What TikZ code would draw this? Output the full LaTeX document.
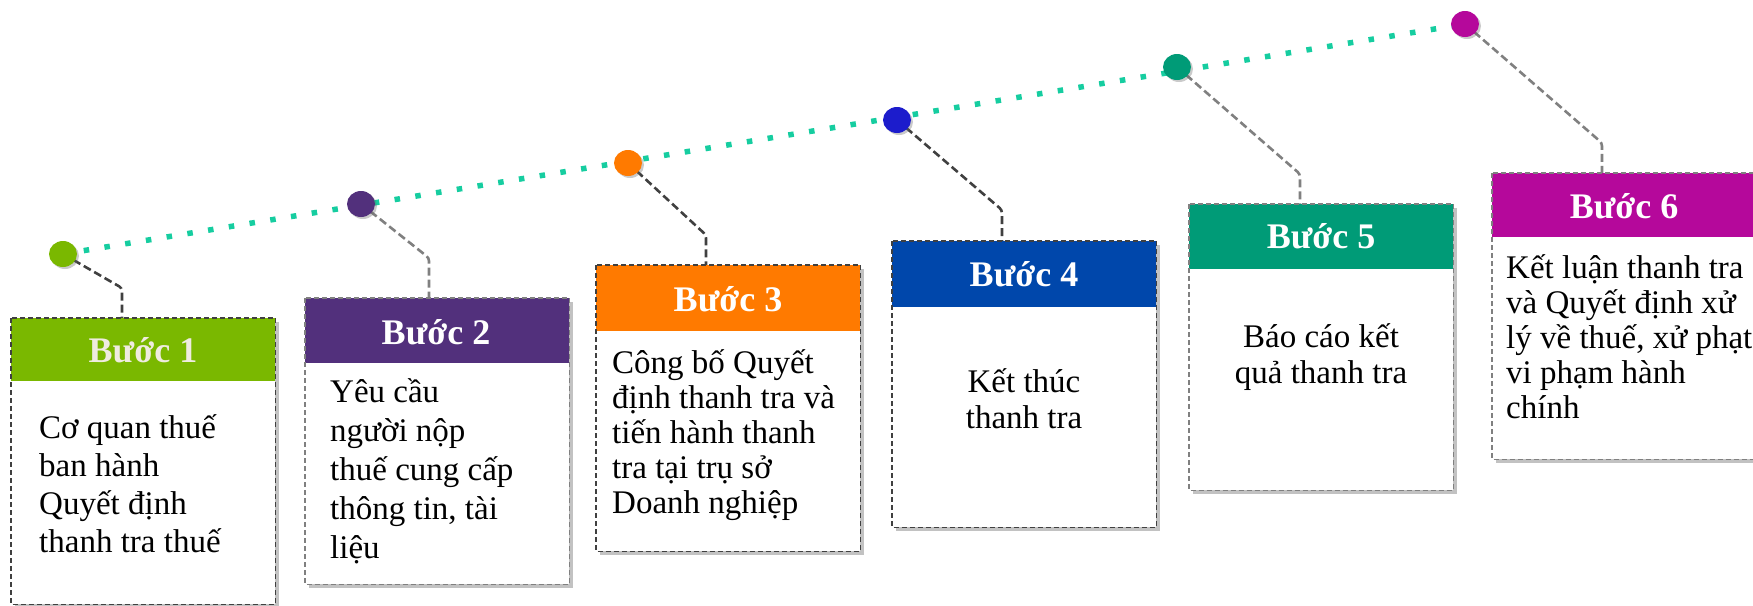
\documentclass[tikz,border=0pt]{standalone}
\usepackage{fontspec}
\setmainfont{Liberation Serif}
\usetikzlibrary{shadows,shapes.geometric}
\definecolor{cA}{HTML}{7AB800}
\definecolor{cB}{HTML}{52307C}
\definecolor{cC}{HTML}{FF7A00}
\definecolor{cD}{HTML}{0047AB}
\definecolor{cE}{HTML}{009B77}
\definecolor{cF}{HTML}{B5089B}
\definecolor{dotD}{HTML}{1C1CCC}
\definecolor{trail}{RGB}{22,205,160}
\definecolor{darkln}{HTML}{404040}
\definecolor{lightln}{HTML}{808080}
\definecolor{hdrA}{HTML}{EFEBE0}
\begin{document}
\begin{tikzpicture}[x=1pt,y=-1pt,
  card/.style={rectangle, fill=white, draw=none, inner sep=0pt, minimum width=264pt, minimum height=286pt, anchor=north west, drop shadow={shadow xshift=4pt, shadow yshift=-4pt, opacity=0.4, fill=black!60}},
  hdr/.style={rectangle, fill=#1, draw=none, inner sep=0pt, minimum width=264pt, anchor=north},
  hdrtext/.style={font=\fontsize{36}{40}\selectfont\bfseries, text=white, anchor=base, inner sep=0pt},
  bodyl/.style={font=\fontsize{33}{38}\selectfont, anchor=base west, inner sep=0pt},
  bodyc/.style={font=\fontsize{33}{38}\selectfont, anchor=base, inner sep=0pt},
  frame/.style={draw=#1, line width=1.8pt, dash pattern=on 5pt off 3pt},
  link/.style={draw=#1, line width=2.6pt, dash pattern=on 8pt off 4pt, rounded corners=3pt},
  stepdot/.style={ellipse, fill=#1, draw=none, inner sep=0pt, minimum width=28pt, minimum height=26pt, drop shadow={shadow xshift=2pt, shadow yshift=-2pt, opacity=0.35, fill=black!60}}
]
\useasboundingbox (0,0) rectangle (1753,605);

% dot positions
\coordinate (p1) at (63,254);
\coordinate (p2) at (361,204);
\coordinate (p3) at (628,163);
\coordinate (p4) at (897,120);
\coordinate (p5) at (1177,67);
\coordinate (p6) at (1465,24);

% trail
\draw[trail, line width=5.5pt, dash pattern=on 5.5pt off 15.5pt] (p1) -- (p6);

% corners of connectors
\coordinate (k1) at (122,288);
\coordinate (k2) at (429,258);
\coordinate (k3) at (706,235);
\coordinate (k4) at (1002,210);
\coordinate (k5) at (1300,174);
\coordinate (k6) at (1602,143);

% cards
\node[card] (b1) at (11,318) {};
\node[card] (b2) at (305,298) {};
\node[card] (b3) at (596,265) {};
\node[card] (b4) at (892,241) {};
\node[card] (b5) at (1189,204) {};
\node[card] (b6) at (1492,173) {};

% connectors
\draw[link=darkln] (p1) -- (k1) -- (k1 |- b1.north);
\draw[link=lightln] (p2) -- (k2) -- (k2 |- b2.north);
\draw[link=darkln] (p3) -- (k3) -- (k3 |- b3.north);
\draw[link=darkln] (p4) -- (k4) -- (k4 |- b4.north);
\draw[link=lightln] (p5) -- (k5) -- (k5 |- b5.north);
\draw[link=lightln] (p6) -- (k6) -- (k6 |- b6.north);

% dots
\node[stepdot=cA] (d1) at (p1) {};
\node[stepdot=cB] (d2) at (p2) {};
\node[stepdot=cC] (d3) at (p3) {};
\node[stepdot=dotD] (d4) at (p4) {};
\node[stepdot=cE] (d5) at (p5) {};
\node[stepdot=cF] (d6) at (p6) {};

% headers
\node[hdr=cA, minimum height=63pt] (h1) at (b1.north) {};
\node[hdr=cB, minimum height=65pt] (h2) at (b2.north) {};
\node[hdr=cC, minimum height=66pt] (h3) at (b3.north) {};
\node[hdr=cD, minimum height=66pt] (h4) at (b4.north) {};
\node[hdr=cE, minimum height=65pt] (h5) at (b5.north) {};
\node[hdr=cF, minimum height=64pt] (h6) at (b6.north) {};

% frames
\draw[frame=darkln] (b1.north west) rectangle (b1.south east);
\draw[frame=lightln] (b2.north west) rectangle (b2.south east);
\draw[frame=darkln] (b3.north west) rectangle (b3.south east);
\draw[frame=darkln] (b4.north west) rectangle (b4.south east);
\draw[frame=lightln] (b5.north west) rectangle (b5.south east);
\draw[frame=lightln] (b6.north west) rectangle (b6.south east);

% header texts
\node[hdrtext, text=hdrA] (ht1) at (143,362) {Bước 1};
\node[hdrtext] (ht2) at (436,344) {Bước 2};
\node[hdrtext] (ht3) at (728,311) {Bước 3};
\node[hdrtext] (ht4) at (1024,286) {Bước 4};
\node[hdrtext] (ht5) at (1321,248) {Bước 5};
\node[hdrtext] (ht6) at (1624,218) {Bước 6};

% body texts
\foreach \s [count=\i] in {{Cơ quan thuế},{ban hành},{Quyết định},{thanh tra thuế}}
  \node[bodyl] (ta\i) at (39,{438+38*(\i-1)}) {\s};
\foreach \s [count=\i] in {{Yêu cầu},{người nộp},{thuế cung cấp},{thông tin, tài},{liệu}}
  \node[bodyl] (tb\i) at (330,{402+39*(\i-1)}) {\s};
\foreach \s [count=\i] in {{Công bố Quyết},{định thanh tra và},{tiến hành thanh},{tra tại trụ sở},{Doanh nghiệp}}
  \node[bodyl] (tc\i) at (612,{373+35*(\i-1)}) {\s};
\foreach \s [count=\i] in {{Kết thúc},{thanh tra}}
  \node[bodyc] (td\i) at (1024,{392+36*(\i-1)}) {\s};
\foreach \s [count=\i] in {{Báo cáo kết},{quả thanh tra}}
  \node[bodyc] (te\i) at (1321,{347+36*(\i-1)}) {\s};
\foreach \s [count=\i] in {{Kết luận thanh tra},{và Quyết định xử},{lý về thuế, xử phạt},{vi phạm hành},{chính}}
  \node[bodyl] (tf\i) at (1506,{278+35*(\i-1)}) {\s};
\end{tikzpicture}
\end{document}
